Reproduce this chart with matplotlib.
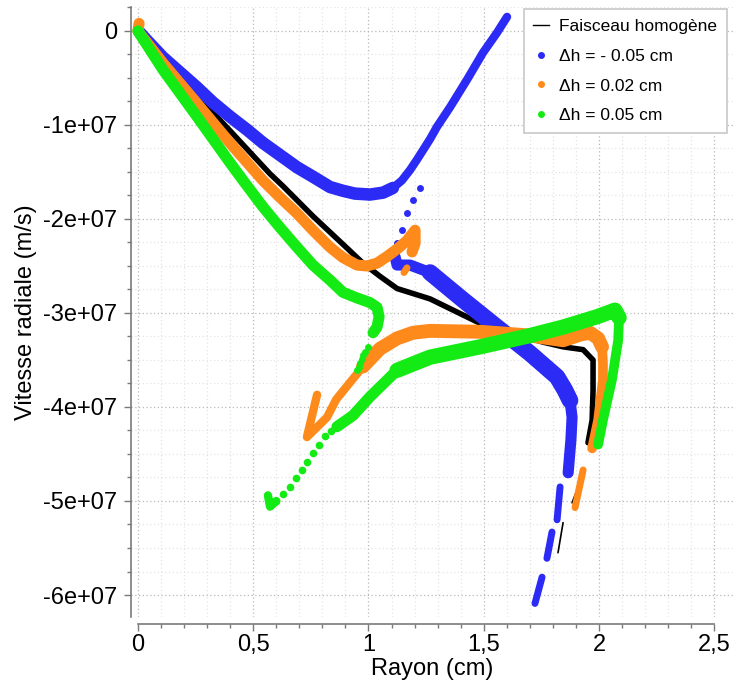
import matplotlib
matplotlib.use("Agg")
import matplotlib.pyplot as plt
from matplotlib.lines import Line2D
from matplotlib.ticker import FixedLocator, MultipleLocator, FuncFormatter

# Values: x in cm, y in units of 1e7 m/s.
# Faisceau homogene (black)
black_x = [0.0, 0.108, 0.256, 0.399, 0.573, 0.629, 0.690, 0.759, 0.833, 0.907,
           0.976, 1.050, 1.124, 1.267, 1.384, 1.484, 1.644, 1.757, 1.844, 1.931,
           1.974, 1.974, 1.970, 1.952]
black_y = [0.0, -0.30, -0.69, -1.06, -1.52, -1.65, -1.80, -1.97, -2.14, -2.31,
           -2.47, -2.61, -2.74, -2.85, -2.99, -3.11, -3.23, -3.31, -3.36, -3.39,
           -3.50, -3.82, -4.14, -4.38]
black_dash1_x = [1.883, 1.926]
black_dash1_y = [-5.02, -4.74]
black_dash2_x = [1.822, 1.844]
black_dash2_y = [-5.55, -5.23]

# Dh = -0.05 cm (blue)
blue_arc_x = [0.009, 0.039, 0.108, 0.182, 0.256, 0.325, 0.399, 0.473, 0.542,
              0.616, 0.690, 0.759, 0.833, 0.889, 0.941, 1.007, 1.063, 1.106,
              1.145, 1.180, 1.210, 1.236, 1.267, 1.297, 1.354, 1.427, 1.497,
              1.557, 1.601]
blue_arc_y = [-0.02, -0.10, -0.28, -0.44, -0.60, -0.76, -0.91, -1.05, -1.19,
              -1.32, -1.45, -1.55, -1.66, -1.70, -1.73, -1.74, -1.72, -1.67,
              -1.59, -1.48, -1.37, -1.27, -1.15, -1.02, -0.81, -0.52, -0.23,
              -0.02, 0.15]
blue_dots_x = [1.223, 1.193, 1.167, 1.145, 1.124]
blue_dots_y = [-1.67, -1.80, -1.94, -2.12, -2.26]
blue_band_x = [1.115, 1.124, 1.180, 1.267, 1.410, 1.557, 1.701, 1.818, 1.852,
               1.874, 1.883, 1.878, 1.866]
blue_band_y = [-2.40, -2.49, -2.49, -2.57, -2.86, -3.15, -3.43, -3.68, -3.82,
               -3.93, -4.11, -4.35, -4.70]
blue_dashes = [([1.831, 1.818], [-4.85, -5.20]),
               ([1.796, 1.774], [-5.33, -5.61]),
               ([1.753, 1.722], [-5.81, -6.09])]

# Dh = 0.02 cm (orange)
orange_a_x = [0.005, 0.0, 0.108, 0.256, 0.399, 0.542, 0.616, 0.690, 0.759,
              0.833, 0.889, 0.950, 0.993, 1.037, 1.080, 1.124, 1.167, 1.202,
              1.202, 1.189]
orange_a_y = [0.08, 0.0, -0.34, -0.77, -1.19, -1.59, -1.77, -1.94, -2.12,
              -2.30, -2.41, -2.49, -2.50, -2.47, -2.40, -2.32, -2.23, -2.12,
              -2.26, -2.35]
orange_blob_x = [1.167, 1.154]
orange_blob_y = [-2.52, -2.57]
orange_b_x = [0.777, 0.733, 0.820, 0.860, 0.976, 1.050, 1.124, 1.193, 1.267,
              1.484, 1.701, 1.844, 1.918, 1.961, 1.996, 2.013, 2.017, 2.017,
              1.996, 1.970]
orange_b_y = [-3.87, -4.32, -4.11, -3.92, -3.57, -3.38, -3.27, -3.21, -3.19,
              -3.20, -3.24, -3.29, -3.23, -3.21, -3.27, -3.36, -3.53, -3.71,
              -4.14, -4.44]
orange_dash_x = [1.931, 1.896]
orange_dash_y = [-4.67, -5.07]

# Dh = 0.05 cm (green)
green_a_x = [0.0, 0.108, 0.256, 0.399, 0.456, 0.542, 0.616, 0.690, 0.759,
             0.833, 0.889, 0.950, 1.007, 1.037, 1.046, 1.037, 1.020]
green_a_y = [0.0, -0.41, -0.91, -1.40, -1.59, -1.87, -2.09, -2.30, -2.49,
             -2.65, -2.78, -2.84, -2.89, -2.94, -3.04, -3.15, -3.21]
green_dots_x = [0.998, 0.987, 0.976, 0.970, 0.963, 0.957, 0.950]
green_dots_y = [-3.36, -3.41, -3.45, -3.49, -3.53, -3.57, -3.61]
green_hook_x = [0.564, 0.573, 0.600, 0.630, 0.659, 0.685, 0.710, 0.735, 0.759,
                0.785, 0.810, 0.837, 0.863]
green_hook_y = [-4.94, -5.06, -5.00, -4.93, -4.85, -4.76, -4.67, -4.58, -4.49,
                -4.40, -4.31, -4.26, -4.21]
green_band_x = [0.863, 0.933, 1.007, 1.124, 1.267, 1.484, 1.701, 1.844, 1.991,
                2.069, 2.087, 2.083, 2.056, 2.017, 1.996]
green_band_y = [-4.21, -4.09, -3.89, -3.61, -3.47, -3.36, -3.24, -3.15, -3.04,
                -2.97, -3.05, -3.29, -3.71, -4.14, -4.40]

BLUE = "#2b2bf5"
ORANGE = "#ff8a1c"
GREEN = "#14eb14"
SCALE = 1e7


def _line(ax, xs, ys, colour, lw, z):
    ax.plot(xs, [v * SCALE for v in ys], color=colour, lw=lw,
            solid_capstyle="round", solid_joinstyle="round", zorder=z)


def _dots(ax, xs, ys, colour, ms, z):
    ax.plot(xs, [v * SCALE for v in ys], "o", color=colour, ms=ms, mew=0, zorder=z)


plt.rcParams["font.family"] = ["Liberation Sans", "DejaVu Sans"]

fig = plt.figure(figsize=(7.34, 6.86), dpi=100)
ax = fig.add_axes([131 / 734, 1 - 617 / 686, 602 / 734, 610 / 686])

# Black (drawn first, the others sit on top of it)
_line(ax, black_x, black_y, "black", 4, 2)
_line(ax, black_dash1_x, black_dash1_y, "black", 1.2, 2)
_line(ax, black_dash2_x, black_dash2_y, "black", 1.2, 2)

# Blue
_line(ax, blue_arc_x[:18], blue_arc_y[:18], BLUE, 9, 3)
_line(ax, blue_arc_x[17:], blue_arc_y[17:], BLUE, 6, 3)
_dots(ax, blue_dots_x, blue_dots_y, BLUE, 5, 3)
_line(ax, blue_band_x[:4], blue_band_y[:4], BLUE, 8, 3)
_line(ax, blue_band_x[3:10], blue_band_y[3:10], BLUE, 12, 3)
_line(ax, blue_band_x[9:], blue_band_y[9:], BLUE, 8, 3)
for xs, ys in blue_dashes:
    _line(ax, xs, ys, BLUE, 5, 3)

# Orange
_line(ax, orange_a_x, orange_a_y, ORANGE, 8, 4)
_line(ax, orange_blob_x, orange_blob_y, ORANGE, 5, 4)
_line(ax, orange_b_x[:5], orange_b_y[:5], ORANGE, 6, 4)
_line(ax, orange_b_x[4:16], orange_b_y[4:16], ORANGE, 10, 4)
_line(ax, orange_b_x[15:], orange_b_y[15:], ORANGE, 7, 4)
_line(ax, orange_dash_x, orange_dash_y, ORANGE, 5, 4)

# Green
_line(ax, green_a_x, green_a_y, GREEN, 8, 5)
_dots(ax, green_dots_x, green_dots_y, GREEN, 5, 5)
_line(ax, green_hook_x[:3], green_hook_y[:3], GREEN, 6, 5)
_dots(ax, green_hook_x[2:], green_hook_y[2:], GREEN, 5.5, 5)
_line(ax, green_band_x[:4], green_band_y[:4], GREEN, 8, 5)
_line(ax, green_band_x[3:11], green_band_y[3:11], GREEN, 11, 5)
_line(ax, green_band_x[10:], green_band_y[10:], GREEN, 7, 5)

# Axes
ax.set_xlim(-0.030, 2.581)
ax.set_ylim(-6.234e7, 0.255e7)
ax.xaxis.set_major_locator(FixedLocator([0, 0.5, 1, 1.5, 2, 2.5]))
ax.xaxis.set_minor_locator(MultipleLocator(0.1))
ax.yaxis.set_major_locator(MultipleLocator(1e7))
ax.yaxis.set_minor_locator(MultipleLocator(0.25e7))
ax.xaxis.set_major_formatter(FuncFormatter(lambda v, p: f"{v:g}".replace(".", ",")))
ax.yaxis.set_major_formatter(FuncFormatter(lambda v, p: "0" if abs(v) < 1 else f"{v:.0e}"))

ax.grid(which="major", color="#b8b8b8", lw=0.9, ls=(0, (1, 2)))
ax.grid(which="minor", color="#e4e4e4", lw=0.9, ls=(0, (1, 2)))
ax.set_axisbelow(True)

for side in ("top", "right"):
    ax.spines[side].set_visible(False)
ax.spines["bottom"].set_position(("outward", 5))
ax.spines["bottom"].set_bounds(0, 2.5)
for side in ("left", "bottom"):
    ax.spines[side].set_color("#7a7a7a")
    ax.spines[side].set_linewidth(1.2)

ax.tick_params(which="major", length=5, width=1, color="#7a7a7a", labelsize=17)
ax.tick_params(which="minor", length=3, width=1, color="#7a7a7a")
ax.tick_params(axis="y", which="major", pad=5)
ax.tick_params(axis="x", which="major", pad=2)

ax.set_xlabel("Rayon (cm)", fontsize=17, labelpad=2)
ax.set_ylabel("Vitesse radiale (m/s)", fontsize=17, labelpad=4)

handles = [
    Line2D([], [], color="black", lw=1),
    Line2D([], [], ls="", marker="o", color=BLUE, ms=4),
    Line2D([], [], ls="", marker="o", color=ORANGE, ms=4),
    Line2D([], [], ls="", marker="o", color=GREEN, ms=4),
]
labels = ["Faisceau homogène", "Δh = - 0.05 cm", "Δh = 0.02 cm", "Δh = 0.05 cm"]
leg = ax.legend(handles, labels, loc="upper right", bbox_to_anchor=(1 - 6 / 602, 1 - 2 / 610),
                borderaxespad=0, fontsize=12.5, handlelength=0.9, handletextpad=0.6,
                labelspacing=0.85, borderpad=0.55, fancybox=False, framealpha=1,
                edgecolor="#c8c8c8")
leg.get_frame().set_linewidth(1.2)
leg.set_zorder(10)

fig.savefig("out.png", dpi=100)
